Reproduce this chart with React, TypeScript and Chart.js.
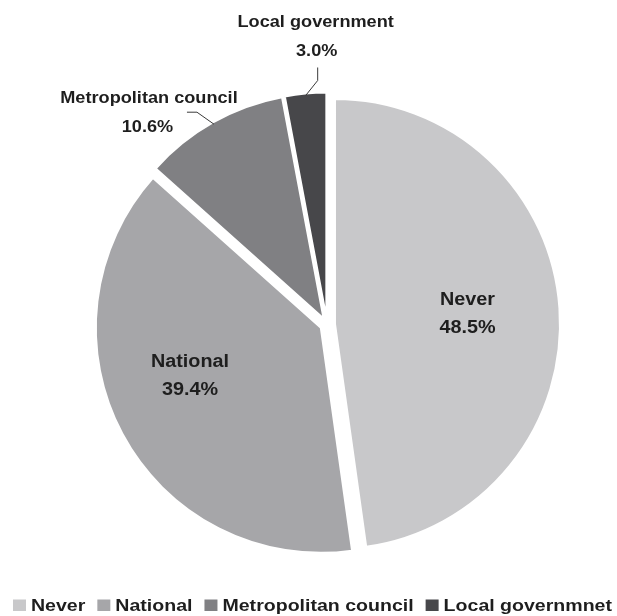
import React, { useEffect, useRef } from 'react';
import { Chart, registerables } from 'chart.js';

Chart.register(...registerables);

// ---- data ----
const categories = ['Never', 'National', 'Metropolitan council', 'Local government'];
const legendLabels = ['Never', 'National', 'Metropolitan council', 'Local governmnet'];
const values = [48.5, 39.4, 10.6, 3.0];

// ---- styles ----
const colors = ['#c8c8ca', '#a6a6a9', '#808083', '#47474a'];
const EXPLODE = [8, 7, 7, 7];
const RADIUS = 225;
const TEXT = '#1e1e1e';
const FONT = '"Liberation Sans", Arial, Helvetica, sans-serif';

const pct = (v: number) => v.toFixed(1) + '%';

function drawScaled(ctx: CanvasRenderingContext2D, text: string, x: number, y: number, size: number, sx: number, align: CanvasTextAlign = 'center') {
  ctx.save();
  ctx.font = `bold ${size}px ${FONT}`;
  ctx.textAlign = align;
  ctx.textBaseline = 'alphabetic';
  ctx.fillStyle = TEXT;
  ctx.translate(x, y);
  ctx.scale(sx, 1);
  ctx.fillText(text, 0, 0);
  ctx.restore();
}

const explodePlugin = {
  id: 'explode',
  afterDatasetsUpdate(chart: any) {
    const meta = chart.getDatasetMeta(0);
    meta.data.forEach((arc: any, i: number) => {
      const mid = (arc.startAngle + arc.endAngle) / 2;
      arc.x += Math.cos(mid) * EXPLODE[i];
      arc.y += Math.sin(mid) * EXPLODE[i];
    });
  },
};

// inside label placement: [index, radius fraction, angle tweak (deg)]
const INSIDE: [number, number, number][] = [
  [0, 0.591, -0.9],
  [1, 0.618, 8.3],
];

const labelsPlugin = {
  id: 'pieLabels',
  afterDatasetsDraw(chart: any) {
    const ctx: CanvasRenderingContext2D = chart.ctx;
    const arcs = chart.getDatasetMeta(0).data;
    const geo = (i: number, r: number, dDeg = 0) => {
      const a = arcs[i];
      const mid = (a.startAngle + a.endAngle) / 2 + (dDeg * Math.PI) / 180;
      return { x: a.x + Math.cos(mid) * r, y: a.y + Math.sin(mid) * r };
    };

    INSIDE.forEach(([i, f, d]) => {
      const p = geo(i, f * arcs[i].outerRadius, d);
      drawScaled(ctx, categories[i], p.x, p.y - 7.5, 18, 1.1);
      drawScaled(ctx, pct(values[i]), p.x, p.y + 20.5, 18, 1.1);
    });

    ctx.save();
    ctx.strokeStyle = '#3a3a3a';
    ctx.lineWidth = 1;

    // Local government (index 3)
    {
      const a = geo(3, arcs[3].outerRadius - 2);
      const e = { x: a.x + 12, y: a.y - 15 };
      ctx.beginPath();
      ctx.moveTo(a.x, a.y);
      ctx.lineTo(e.x, e.y);
      ctx.lineTo(e.x, e.y - 13);
      ctx.stroke();
      drawScaled(ctx, categories[3], a.x + 10, a.y - 68.5, 16.5, 1.1);
      drawScaled(ctx, pct(values[3]), a.x + 11, a.y - 39, 16.5, 1.1);
    }
    // Metropolitan council (index 2)
    {
      const a = geo(2, arcs[2].outerRadius - 2);
      const e = { x: a.x - 17, y: a.y - 12 };
      ctx.beginPath();
      ctx.moveTo(a.x, a.y);
      ctx.lineTo(e.x, e.y);
      ctx.lineTo(e.x - 10, e.y);
      ctx.stroke();
      drawScaled(ctx, categories[2], a.x - 65, a.y - 21, 16.5, 1.1);
      drawScaled(ctx, pct(values[2]), a.x - 66.5, a.y + 7.5, 16.5, 1.1);
    }
    ctx.restore();
  },
  afterDraw(chart: any) {
    const ctx: CanvasRenderingContext2D = chart.ctx;
    const size = 17;
    const sx = 1.15;
    const box = 13;
    const boxH = 11.5;
    const pad = 5;
    const gap = 12;
    ctx.save();
    ctx.font = `bold ${size}px ${FONT}`;
    const widths = legendLabels.map((t) => ctx.measureText(t).width * sx);
    const total = widths.reduce((s, w) => s + w + box + pad, 0) + gap * (legendLabels.length - 1);
    let x = 312.5 - total / 2;
    const baseline = 611;
    legendLabels.forEach((t, i) => {
      ctx.fillStyle = colors[i];
      ctx.fillRect(x, baseline - boxH, box, boxH);
      x += box + pad;
      drawScaled(ctx, t, x, baseline, size, sx, 'left');
      x += widths[i] + gap;
    });
    ctx.restore();
  },
};

export default function App() {
  const ref = useRef<HTMLCanvasElement>(null);
  useEffect(() => {
    if (!ref.current) return;
    const chart = new Chart(ref.current, {
      type: 'pie',
      data: {
        labels: categories,
        datasets: [
          {
            data: values,
            backgroundColor: colors,
            borderColor: '#ffffff',
            borderWidth: 2,
          },
        ],
      },
      options: {
        responsive: false,
        animation: false,
        events: [],
        radius: RADIUS,
        layout: { padding: { left: 40, right: 3, top: 36, bottom: 3 } },
        plugins: {
          legend: { display: false },
          tooltip: { enabled: false },
        },
      } as any,
      plugins: [explodePlugin, labelsPlugin],
    });
    return () => chart.destroy();
  }, []);
  return (
    <div style={{ position: 'absolute', left: 0, top: 0, width: 617, height: 616, background: '#fff' }}>
      <canvas ref={ref} width={617} height={616} style={{ display: 'block' }} />
    </div>
  );
}
